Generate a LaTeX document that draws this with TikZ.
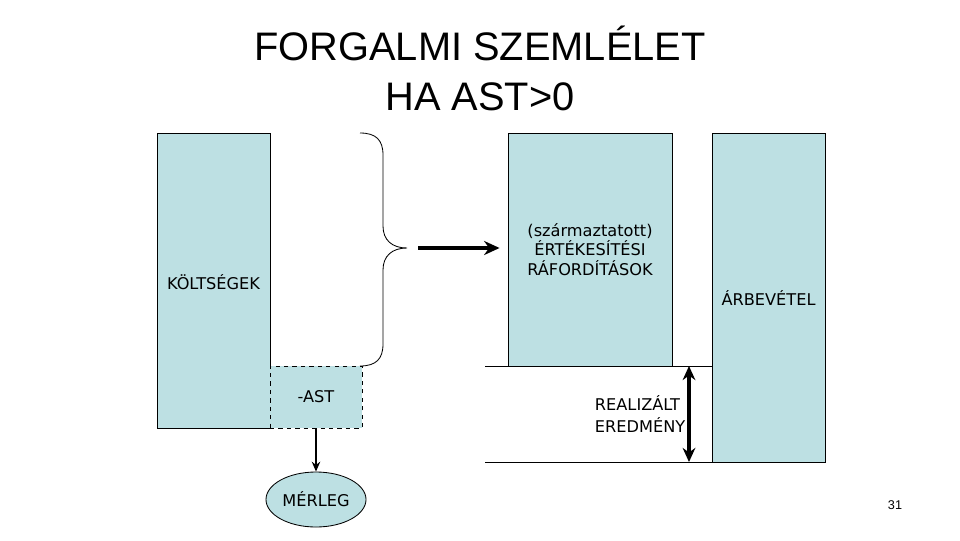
\documentclass[tikz,border=0pt]{standalone}
\usepackage{fontspec}
\setmainfont{DejaVu Sans}
\newfontfamily\titlefont{Liberation Sans}
\usepackage{xcolor}
\usetikzlibrary{shapes.geometric,arrows.meta}
\definecolor{boxblue}{RGB}{189,224,227}

\begin{document}
\begin{tikzpicture}[x=0.025cm, y=-0.025cm,
    bar/.style={draw=black, line width=0.6pt, fill=boxblue, inner sep=0pt, font=\fontsize{11.5}{14}\selectfont},
    dashbar/.style={bar, dashed},
    bigarrow/.style={line width=2.2pt, -{Stealth[length=11pt, width=10pt]}}]
    \useasboundingbox (0,0) rectangle (960,540);
    % title
    \node[font=\titlefont\fontsize{28.3}{35.5}\selectfont, align=center] (title) at (480,68) {FORGALMI SZEMLÉLET\\HA AST>0};
    % left side
    \node[bar, minimum width=2.825cm, minimum height=7.375cm] (koltseg) at (213.5,280.5) {};
    \node[font=\fontsize{11.5}{14}\selectfont] (koltlabel) at (213.5,282) {KÖLTSÉGEK};
    \node[dashbar, minimum width=2.3cm, minimum height=1.55cm] (ast) at (316,397) {-AST};
    \node[bar, ellipse, minimum width=2.5cm, minimum height=1.375cm] (merleg) at (316,499.5) {MÉRLEG};
    \draw[line width=1.2pt, -{Stealth[length=7pt, width=6pt]}] (ast.south) -- (merleg.north);
    % brace
    \coordinate (bracetip) at (407,248);
    \draw[line width=0.6pt] (360,133) .. controls (376,133) and (383,140) .. (383,155)
        -- (383,226) .. controls (383,240) and (392,248) .. (bracetip)
        .. controls (392,248) and (383,256) .. (383,270)
        -- (383,344) .. controls (383,359) and (376,366) .. (360,366);
    % right side
    \node[bar, minimum width=4.1cm, minimum height=5.825cm, align=center] (ert) at (590,249.5)
        {(származtatott)\\ÉRTÉKESÍTÉSI\\RÁFORDÍTÁSOK};
    \node[bar, minimum width=2.825cm, minimum height=8.225cm] (arbev) at (768.5,297.5) {ÁRBEVÉTEL};
    \draw[bigarrow] ([xshift=11*0.025cm]bracetip) -- ([xshift=-8*0.025cm]ert.west |- bracetip);
    \coordinate (lineA) at (485,366);
    \coordinate (lineB) at (485,462);
    \draw[line width=0.6pt] (lineA) -- (lineA -| arbev.west);
    \draw[line width=0.6pt] (lineB) -- (lineB -| arbev.west);
    \draw[line width=2.2pt, {Stealth[length=10pt, width=9pt]}-{Stealth[length=10pt, width=9pt]}] (689,366) -- (689,462);
    \node[font=\fontsize{11.5}{15.5}\selectfont, align=left, anchor=west] (realiz) at (590,414) {REALIZÁLT\\EREDMÉNY};
    \node[font=\titlefont\fontsize{9}{11}\selectfont] (page) at (895,505) {31};
\end{tikzpicture}
\end{document}
